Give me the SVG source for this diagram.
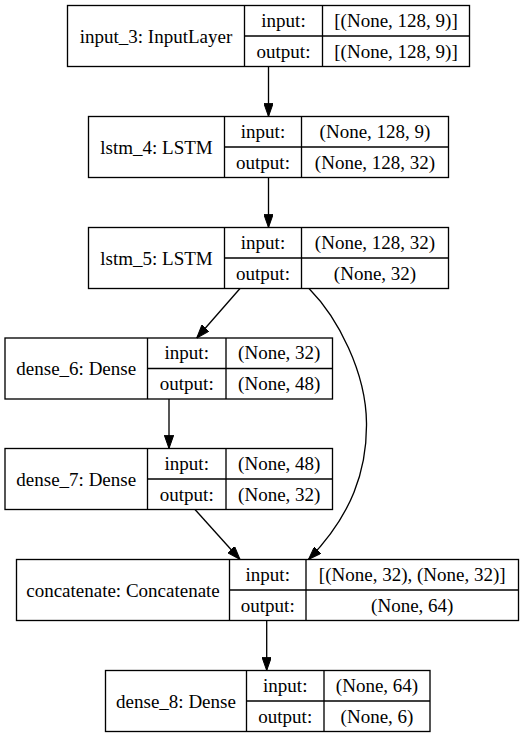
<svg xmlns="http://www.w3.org/2000/svg" width="525" height="737" viewBox="0 0 525 737">
<style>
rect.c{fill:none;stroke:#000;stroke-width:1.33}
line.d{stroke:#000;stroke-width:1.33}
.e{fill:none;stroke:#000;stroke-width:1.33}
</style>
<defs>
<marker id="ah" markerUnits="userSpaceOnUse" viewBox="0 0 13.3 9.4" refX="13.3" refY="4.7" markerWidth="13.3" markerHeight="9.4" orient="auto">
<path d="M0,0 L13.3,4.7 L0,9.4 Z" fill="#000" stroke="#000" stroke-width="1"/>
</marker>
</defs>
<rect width="525" height="737" fill="#fff"/>
<g font-family="Liberation Serif, Times New Roman, serif" font-size="19" text-anchor="middle" fill="#000">

<g id="input_3">
<rect class="c" x="67.5" y="5.5" width="402" height="61"/>
<line class="d" x1="244.5" y1="5.5" x2="244.5" y2="66.5"/>
<line class="d" x1="322.5" y1="5.5" x2="322.5" y2="66.5"/>
<line class="d" x1="244.5" y1="36" x2="469.5" y2="36"/>
<text x="156" y="42.5">input_3: InputLayer</text>
<text x="283.5" y="26.5">input:</text>
<text x="283.5" y="57.5">output:</text>
<text x="396" y="26.5">[(None, 128, 9)]</text>
<text x="396" y="57.5">[(None, 128, 9)]</text>
</g>

<g id="lstm_4">
<rect class="c" x="88.5" y="116.5" width="360" height="61"/>
<line class="d" x1="224.5" y1="116.5" x2="224.5" y2="177.5"/>
<line class="d" x1="301.5" y1="116.5" x2="301.5" y2="177.5"/>
<line class="d" x1="224.5" y1="147" x2="448.5" y2="147"/>
<text x="156.5" y="153.5">lstm_4: LSTM</text>
<text x="263" y="137.5">input:</text>
<text x="263" y="168.5">output:</text>
<text x="375" y="137.5">(None, 128, 9)</text>
<text x="375" y="168.5">(None, 128, 32)</text>
</g>

<g id="lstm_5">
<rect class="c" x="88.5" y="227.5" width="360" height="61"/>
<line class="d" x1="224.5" y1="227.5" x2="224.5" y2="288.5"/>
<line class="d" x1="301.5" y1="227.5" x2="301.5" y2="288.5"/>
<line class="d" x1="224.5" y1="258" x2="448.5" y2="258"/>
<text x="156.5" y="264.5">lstm_5: LSTM</text>
<text x="263" y="248.5">input:</text>
<text x="263" y="279.5">output:</text>
<text x="375" y="248.5">(None, 128, 32)</text>
<text x="375" y="279.5">(None, 32)</text>
</g>

<g id="dense_6">
<rect class="c" x="5" y="338" width="327.5" height="61"/>
<line class="d" x1="147.5" y1="338" x2="147.5" y2="399"/>
<line class="d" x1="226" y1="338" x2="226" y2="399"/>
<line class="d" x1="147.5" y1="368.5" x2="332.5" y2="368.5"/>
<text x="76.25" y="375">dense_6: Dense</text>
<text x="186.75" y="359">input:</text>
<text x="186.75" y="390">output:</text>
<text x="279.25" y="359">(None, 32)</text>
<text x="279.25" y="390">(None, 48)</text>
</g>

<g id="dense_7">
<rect class="c" x="5" y="448.5" width="327.5" height="61"/>
<line class="d" x1="147.5" y1="448.5" x2="147.5" y2="509.5"/>
<line class="d" x1="226" y1="448.5" x2="226" y2="509.5"/>
<line class="d" x1="147.5" y1="479" x2="332.5" y2="479"/>
<text x="76.25" y="485.5">dense_7: Dense</text>
<text x="186.75" y="469.5">input:</text>
<text x="186.75" y="500.5">output:</text>
<text x="279.25" y="469.5">(None, 48)</text>
<text x="279.25" y="500.5">(None, 32)</text>
</g>

<g id="concatenate">
<rect class="c" x="16.5" y="559.5" width="502" height="61"/>
<line class="d" x1="229.5" y1="559.5" x2="229.5" y2="620.5"/>
<line class="d" x1="306" y1="559.5" x2="306" y2="620.5"/>
<line class="d" x1="229.5" y1="590" x2="518.5" y2="590"/>
<text x="123" y="596.5">concatenate: Concatenate</text>
<text x="267.75" y="580.5">input:</text>
<text x="267.75" y="611.5">output:</text>
<text x="412.25" y="580.5">[(None, 32), (None, 32)]</text>
<text x="412.25" y="611.5">(None, 64)</text>
</g>

<g id="dense_8">
<rect class="c" x="105.5" y="670.5" width="324.5" height="61"/>
<line class="d" x1="246.5" y1="670.5" x2="246.5" y2="731.5"/>
<line class="d" x1="324" y1="670.5" x2="324" y2="731.5"/>
<line class="d" x1="246.5" y1="701" x2="430" y2="701"/>
<text x="176" y="707.5">dense_8: Dense</text>
<text x="285.25" y="691.5">input:</text>
<text x="285.25" y="722.5">output:</text>
<text x="377" y="691.5">(None, 64)</text>
<text x="377" y="722.5">(None, 6)</text>
</g>
</g>

<g id="connectors">
<path class="e" d="M268.5,66.5 L268.5,116.5" marker-end="url(#ah)"/>
<path class="e" d="M268.5,177.5 L268.5,227.5" marker-end="url(#ah)"/>
<path class="e" d="M240,288.5 L196.7,338" marker-end="url(#ah)"/>
<path class="e" d="M309,288.5 C338,318 366,372 366.5,423 C367,470 352,515 308.5,559.5" marker-end="url(#ah)"/>
<path class="e" d="M169,399 L169,448.5" marker-end="url(#ah)"/>
<path class="e" d="M195,509.5 L240,559.5" marker-end="url(#ah)"/>
<path class="e" d="M266.7,620.5 L266.7,670.5" marker-end="url(#ah)"/>
</g>
</svg>
